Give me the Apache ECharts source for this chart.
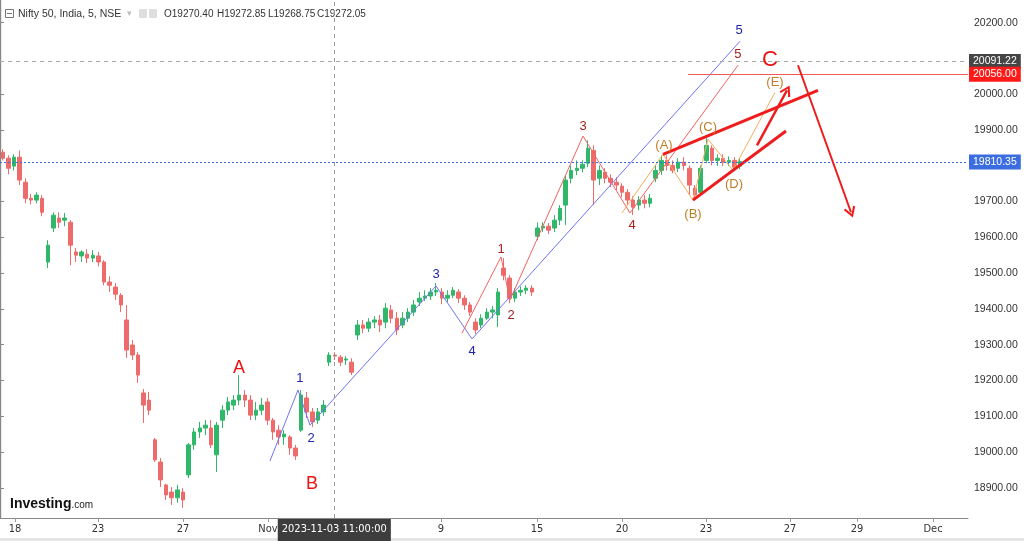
<!DOCTYPE html>
<html>
<head>
<meta charset="utf-8">
<script src="https://cdn.jsdelivr.net/npm/echarts@6/dist/echarts.min.js"></script>
<style>
  html, body { margin: 0; padding: 0; background: #fff; }
  #chart { width: 1024px; height: 541px; }
</style>
</head>
<body>
<div id="chart"></div>
<script>
// 5-minute bars grouped into slots, [open, close, low, high]
const ohlc = [
  [19838, 19821, 19815, 19846], [19821, 19793, 19776, 19829], [19799, 19824, 19787, 19832], [19824, 19760, 19746, 19843],
  [19754, 19709, 19695, 19765], [19709, 19704, 19692, 19721], [19704, 19718, 19695, 19726], [19709, 19670, 19659, 19718],
  [19531, 19578, 19514, 19592], [19626, 19662, 19615, 19670], [19654, 19642, 19626, 19670], [19648, 19654, 19631, 19668],
  [19642, 19578, 19522, 19648], [19559, 19550, 19531, 19570], [19548, 19559, 19531, 19564], [19553, 19542, 19528, 19567],
  [19542, 19550, 19531, 19564], [19548, 19531, 19519, 19559], [19531, 19475, 19466, 19536], [19475, 19466, 19447, 19491],
  [19461, 19441, 19425, 19472], [19438, 19411, 19391, 19444], [19369, 19285, 19263, 19411], [19299, 19271, 19257, 19313],
  [19271, 19215, 19193, 19279], [19165, 19131, 19081, 19176], [19145, 19117, 19103, 19168], [19034, 18978, 18972, 19039],
  [18972, 18922, 18902, 18983], [18908, 18880, 18866, 18911], [18888, 18872, 18852, 18902], [18872, 18894, 18858, 18908],
  [18888, 18866, 18844, 18899], [18936, 19020, 18927, 19025], [19020, 19056, 19006, 19067], [19056, 19067, 19039, 19084],
  [19067, 19075, 19047, 19089], [19067, 19020, 19011, 19089], [18992, 19075, 18944, 19084], [19089, 19117, 19067, 19131],
  [19117, 19140, 19103, 19154], [19131, 19145, 19117, 19159], [19145, 19159, 19131, 19215], [19159, 19145, 19126, 19173],
  [19145, 19103, 19089, 19159], [19103, 19117, 19089, 19140], [19117, 19131, 19103, 19151], [19140, 19089, 19075, 19151],
  [19089, 19056, 19034, 19095], [19061, 19042, 19020, 19075], [19042, 19050, 19020, 19061], [19042, 19011, 18992, 19047],
  [19011, 18989, 18978, 19020], [19061, 19159, 19056, 19173], [19151, 19112, 19095, 19168], [19112, 19084, 19070, 19123],
  [19089, 19112, 19078, 19123], [19112, 19131, 19101, 19145], [19251, 19271, 19240, 19279], [19271, 19268, 19257, 19279],
  [19265, 19251, 19240, 19271], [19257, 19260, 19243, 19268], [19251, 19223, 19215, 19262], [19327, 19355, 19313, 19369],
  [19355, 19346, 19332, 19369], [19346, 19363, 19335, 19374], [19363, 19369, 19346, 19380], [19369, 19355, 19335, 19383],
  [19363, 19402, 19346, 19416], [19397, 19374, 19360, 19411], [19374, 19341, 19327, 19391], [19355, 19374, 19346, 19391],
  [19374, 19391, 19363, 19402], [19391, 19411, 19380, 19425], [19419, 19430, 19408, 19447], [19430, 19436, 19422, 19452],
  [19436, 19447, 19425, 19458], [19447, 19452, 19436, 19472], [19447, 19430, 19413, 19458], [19430, 19438, 19419, 19452],
  [19438, 19452, 19430, 19461], [19447, 19430, 19416, 19455], [19430, 19411, 19397, 19438], [19411, 19391, 19380, 19419],
  [19363, 19341, 19330, 19374], [19355, 19374, 19346, 19385], [19374, 19391, 19369, 19402], [19391, 19397, 19374, 19408],
  [19383, 19447, 19349, 19458], [19514, 19494, 19480, 19542], [19486, 19430, 19416, 19494], [19430, 19447, 19419, 19458],
  [19447, 19452, 19436, 19463], [19452, 19458, 19441, 19466], [19458, 19447, 19436, 19466], [19603, 19626, 19592, 19642],
  [19626, 19631, 19615, 19642], [19631, 19620, 19609, 19640], [19626, 19648, 19615, 19662], [19648, 19681, 19634, 19690],
  [19690, 19760, 19634, 19774], [19765, 19787, 19751, 19801], [19787, 19793, 19774, 19815], [19793, 19804, 19782, 19815],
  [19807, 19849, 19796, 19871], [19843, 19760, 19690, 19857], [19765, 19787, 19746, 19801], [19782, 19765, 19751, 19793],
  [19765, 19754, 19740, 19776], [19754, 19746, 19732, 19768], [19743, 19726, 19712, 19751], [19726, 19704, 19690, 19735],
  [19704, 19684, 19662, 19715], [19690, 19704, 19676, 19715], [19704, 19695, 19681, 19718], [19695, 19709, 19684, 19721],
  [19765, 19787, 19754, 19801], [19787, 19815, 19774, 19829], [19815, 19801, 19787, 19829], [19801, 19787, 19779, 19815],
  [19793, 19810, 19782, 19821], [19810, 19801, 19787, 19824], [19793, 19746, 19718, 19801], [19737, 19718, 19704, 19746],
  [19726, 19793, 19715, 19801], [19815, 19857, 19807, 19877], [19849, 19815, 19801, 19857], [19815, 19821, 19799, 19832],
  [19821, 19810, 19799, 19832], [19810, 19815, 19799, 19826], [19815, 19796, 19785, 19824], [19799, 19812, 19790, 19821]
];

const slotCount = 172;
const dayLabels = ['18', '23', '27', 'Nov', '9', '15', '20', '23', '27', '29', 'Dec'];
const dayLabelPos = [2.67, 17.41, 32.52, 47.62, 78.36, 95.42, 110.52, 125.44, 140.37, 152.27, 165.78];
const priceTicks = [18900, 19000, 19100, 19200, 19300, 19400, 19500, 19600, 19700, 19900, 20000, 20200];

// wave drawings [slot, price]
const blueWave = [[47.97, 18975], [52.95, 19173], [55.08, 19075], [77.47, 19464], [83.87, 19316], [131.49, 20148]];
const redWave = [[82.09, 19332], [89.02, 19545], [90.62, 19425], [103.59, 19883], [111.94, 19668], [131.13, 20081]];
const orangeWave = [[110.52, 19668], [117.80, 19832], [123.13, 19704], [125.80, 19874], [130.24, 19787], [137.70, 20005]];
const channelTop = [[117.80, 19832], [145.34, 20011]];
const channelBottom = [[123.13, 19704], [139.66, 19897]];
const arrowUp = [[134.51, 19857], [139.84, 20011]];
const arrowDown = [[141.79, 20081], [151.21, 19670]];

// wave labels [text, slot, price]
const blueLabels = [['1', 53.30, 19207], ['2', 55.26, 19039], ['3', 77.47, 19497], ['4', 83.87, 19282], ['5', 131.31, 20179]];
const redLabels = [['1', 89.02, 19567], ['2', 90.80, 19383], ['3', 103.59, 19911], ['4', 112.30, 19634], ['5', 131.13, 20110]];
const orangeLabels = [['(A)', 117.98, 19858], ['(B)', 123.13, 19665], ['(C)', 125.80, 19908], ['(D)', 130.42, 19749], ['(E)', 137.70, 20034]];
const bigLabels = [['A', 42.47, 19235], ['B', 55.44, 18911], ['C', 136.82, 20096]];

const lastPrice = 19810.35;
const crossPrice = 20091.22;
const targetPrice = 20056;
const targetStart = 122.25;
const crossSlot = 59.4;
const crossTime = '2023-11-03 11:00:00';
const headNames = ['O', 'H', 'L', 'C'];
const headValues = ['19270.40', '19272.85', '19268.75', '19272.05'];

const fontMain = "'Liberation Sans', Arial, sans-serif";
const fontNarrow = "'Liberation Sans Narrow', 'DejaVu Sans Condensed', Arial, sans-serif";
const chevron = 'path://M10,0 L20,16 L17,18 L10,6 L3,18 L0,16 Z';

let myChart = echarts.init(document.getElementById('chart'), null, { width: 1024, height: 541 });

const labelSeries = (items, color, size) => ({
  type: 'scatter',
  data: items.map(d => ({ name: d[0], value: [d[1], d[2]] })),
  symbolSize: 1,
  itemStyle: { color: 'transparent', opacity: 1 },
  silent: true,
  z: 5,
  label: {
    show: true,
    position: 'inside',
    formatter: '{b}',
    color: color,
    opacity: 1,
    fontSize: size,
    fontFamily: fontMain
  }
});

const lineSeries = (data, color, width) => ({
  type: 'line',
  data: data,
  showSymbol: false,
  silent: true,
  z: 4,
  lineStyle: { color: color, width: width }
});

let option = {
  animation: false,
  backgroundColor: '#fff',
  grid: { left: 0, right: 56, top: 0, bottom: 23 },
  xAxis: {
    type: 'value',
    min: 0,
    max: slotCount,
    splitLine: { show: false },
    axisLine: { show: true, onZero: false, lineStyle: { color: '#888' } },
    axisTick: { show: true, length: 4, customValues: dayLabelPos, lineStyle: { color: '#999' } },
    axisLabel: {
      customValues: dayLabelPos,
      formatter: v => dayLabels[dayLabelPos.indexOf(v)],
      color: '#333',
      fontSize: 11,
      fontFamily: fontNarrow,
      margin: 6
    }
  },
  yAxis: {
    type: 'value',
    position: 'right',
    min: 18815.5,
    max: 20263.3,
    splitLine: { show: false },
    axisLine: { show: true, lineStyle: { color: '#888' } },
    axisTick: { show: true, length: 4, customValues: priceTicks, lineStyle: { color: '#888' } },
    axisLabel: {
      customValues: priceTicks,
      formatter: v => v.toFixed(2),
      color: '#333',
      fontSize: 10.5,
      fontFamily: fontMain,
      margin: 6
    }
  },
  graphic: [
    { type: 'rect', shape: { x: 0, y: 0, width: 1.5, height: 518 }, style: { fill: '#cfcfcf' }, silent: true },
    { type: 'rect', shape: { x: 0, y: 538, width: 1024, height: 3 }, style: { fill: '#e6e6e6' }, silent: true },
    { type: 'rect', shape: { x: 5.5, y: 9.5, width: 8, height: 8 }, style: { fill: 'none', stroke: '#777', lineWidth: 1 }, silent: true },
    { type: 'line', shape: { x1: 7, y1: 13.5, x2: 12, y2: 13.5 }, style: { stroke: '#777', lineWidth: 1 }, silent: true },
    { type: 'text', x: 18, y: 14, style: { text: 'Nifty 50, India, 5, NSE', fill: '#333', font: '10.5px ' + fontMain, verticalAlign: 'middle' }, silent: true },
    { type: 'text', x: 127, y: 14, style: { text: '▾', fill: '#bbb', font: '9px ' + fontMain, verticalAlign: 'middle' }, silent: true },
    { type: 'rect', shape: { x: 139, y: 9, width: 8, height: 9, r: 1 }, style: { fill: '#dedede' }, silent: true },
    { type: 'rect', shape: { x: 149, y: 9, width: 8, height: 9, r: 1 }, style: { fill: '#dedede' }, silent: true },
    ...headNames.map((n, i) => ({
      type: 'text', x: [164, 217, 268, 317][i], y: 14,
      style: { text: n + headValues[i], fill: '#333', font: '10px ' + fontMain, verticalAlign: 'middle' },
      silent: true
    })),
    {
      type: 'text', x: 10, y: 504,
      style: {
        text: '{a|Investing}{b|.com}',
        verticalAlign: 'middle',
        rich: {
          a: { fontSize: 14, fontWeight: 'bold', fill: '#111', fontFamily: fontMain },
          b: { fontSize: 10, fill: '#222', fontFamily: fontMain, padding: [3, 0, 0, 0] }
        }
      },
      silent: true
    }
  ],
  series: [
    {
      type: 'candlestick',
      data: ohlc.map((d, i) => [i + 0.5, d[0], d[1], d[2], d[3]]),
      encode: { x: 0, y: [1, 2, 3, 4] },
      barWidth: 4,
      silent: true,
      z: 2,
      itemStyle: {
        color: '#2fb86a',
        color0: '#ee6b6b',
        borderColor: '#2fb86a',
        borderColor0: '#ee6b6b',
        borderWidth: 1
      },
      markLine: {
        silent: true,
        symbol: ['none', 'none'],
        animation: false,
        data: [
          {
            yAxis: lastPrice,
            lineStyle: { color: '#3b6de0', type: [2, 2], width: 1 },
            label: { show: true, position: 'end', distance: 1, formatter: lastPrice.toFixed(2), color: '#fff', backgroundColor: '#3b6de0', padding: [2, 4], fontSize: 10.5, fontFamily: fontMain }
          },
          {
            yAxis: crossPrice,
            lineStyle: { color: '#aaa', type: [4, 4], width: 1 },
            label: { show: true, position: 'end', distance: 1, formatter: crossPrice.toFixed(2), color: '#fff', backgroundColor: '#454545', padding: [2, 4], fontSize: 10.5, fontFamily: fontMain }
          },
          [
            {
              coord: [targetStart, targetPrice],
              lineStyle: { color: '#f25a5a', type: 'solid', width: 1 },
              label: { show: true, position: 'end', distance: 1, formatter: targetPrice.toFixed(2), color: '#fff', backgroundColor: '#ff1a1a', padding: [2, 4], fontSize: 10.5, fontFamily: fontMain }
            },
            { coord: [slotCount, targetPrice] }
          ],
          {
            xAxis: crossSlot,
            lineStyle: { color: '#999', type: [4, 4], width: 1 },
            label: { show: true, position: 'start', distance: 1, formatter: crossTime, color: '#fff', backgroundColor: '#3d3d3d', padding: [5, 4, 6, 4], fontSize: 11, fontFamily: fontNarrow }
          }
        ]
      }
    },
    lineSeries(blueWave, '#7173f3', 1),
    lineSeries(redWave, '#f26262', 1),
    lineSeries(orangeWave, '#f7ad5e', 1),
    lineSeries(channelTop, '#ee1c1c', 3),
    lineSeries(channelBottom, '#ee1c1c', 3),
    {
      type: 'line',
      data: [],
      silent: true,
      markLine: {
        silent: true,
        animation: false,
        symbol: ['none', chevron],
        symbolSize: [12, 11],
        label: { show: false },
        lineStyle: { color: '#ee1c1c', type: 'solid' },
        data: [
          [{ coord: arrowUp[0], lineStyle: { width: 2.5 } }, { coord: arrowUp[1] }],
          [{ coord: arrowDown[0], lineStyle: { width: 2 } }, { coord: arrowDown[1] }]
        ]
      }
    },
    labelSeries(blueLabels, '#1f23b0', 13),
    labelSeries(redLabels, '#a82020', 13),
    labelSeries(orangeLabels, '#c07e28', 13),
    labelSeries(bigLabels.slice(0, 2), '#ee1111', 18),
    labelSeries(bigLabels.slice(2), '#ee1111', 22)
  ]
};
myChart.setOption(option);
</script>
</body>
</html>
